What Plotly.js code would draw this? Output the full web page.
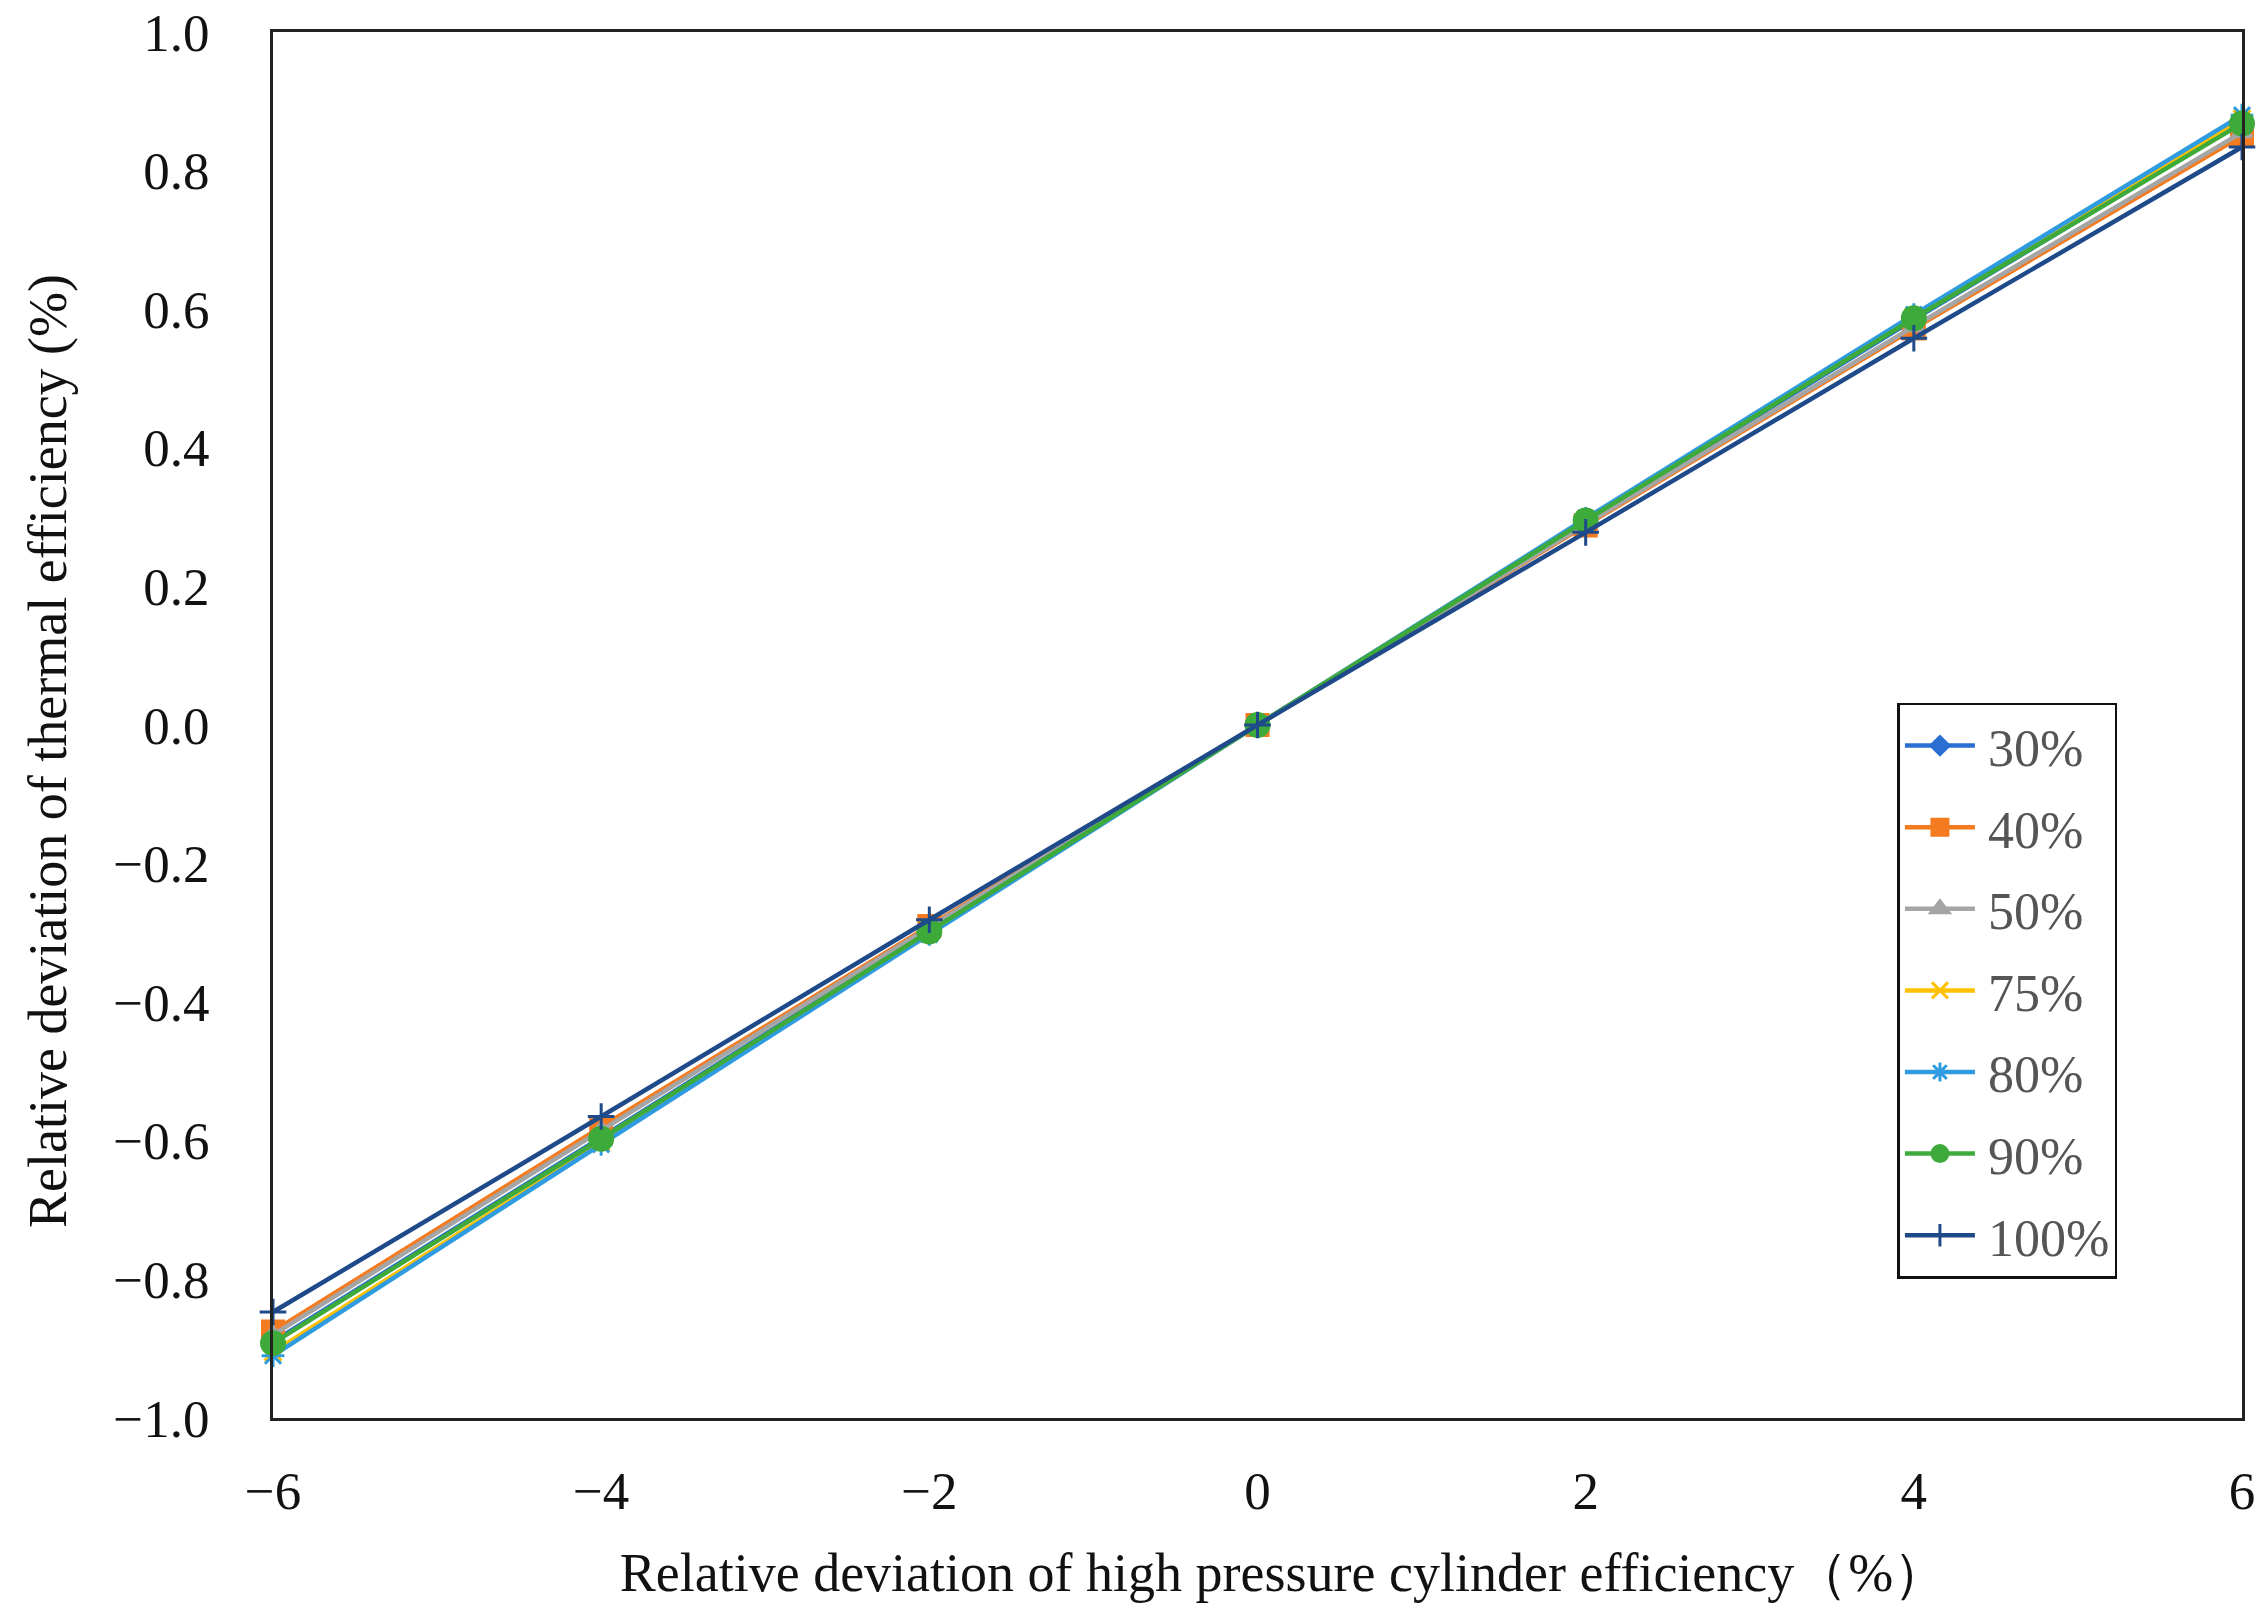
<!DOCTYPE html>
<html>
<head>
<meta charset="utf-8">
<script src="https://cdn.plot.ly/plotly-3.0.1.min.js"></script>
<style>html,body{margin:0;padding:0;background:#fff;}#chart{width:2267px;height:1623px;}</style>
</head>
<body>
<div id="chart"></div>
<script>
const xValues = [-6, -4, -2, 0, 2, 4, 6];
const seriesNames = ["30%", "40%", "50%", "75%", "80%", "90%", "100%"];
const load30 = [-0.890, -0.595, -0.297, 0, 0.294, 0.585, 0.870];
const load40 = [-0.875, -0.580, -0.290, 0, 0.288, 0.572, 0.850];
const load50 = [-0.880, -0.585, -0.292, 0, 0.290, 0.575, 0.855];
const load75 = [-0.905, -0.603, -0.300, 0, 0.297, 0.590, 0.875];
const load80 = [-0.910, -0.605, -0.302, 0, 0.298, 0.592, 0.880];
const load90 = [-0.892, -0.597, -0.298, 0, 0.295, 0.587, 0.868];
const load100 = [-0.847, -0.565, -0.281, 0, 0.278, 0.558, 0.834];
const xTickVals = [-6, -4, -2, 0, 2, 4, 6];
const yTickVals = [-1.0, -0.8, -0.6, -0.4, -0.2, 0.0, 0.2, 0.4, 0.6, 0.8, 1.0];

const allSeries = [load30, load40, load50, load75, load80, load90, load100];
const colors = ["#2a6fd1", "#f47b20", "#a5a5a5", "#ffc000", "#2f9be0", "#3daa3a", "#1f4a8a"];
const symbols = ["diamond", "square", "triangle-up", "x-thin-open", "asterisk-open", "circle", "cross-thin-open"];
const sizes = [14, 21, 17, 17, 19, 23, 19];

const traces = allSeries.map((ys, i) => ({
  x: xValues,
  y: ys,
  name: seriesNames[i],
  type: "scatter",
  mode: "lines+markers",
  cliponaxis: false,
  legendgroup: "g" + i,
  line: {color: colors[i], width: 4.5},
  marker: {symbol: symbols[i], size: sizes[i], color: colors[i], line: {color: colors[i], width: 3}}
}));

const fontFam = "Liberation Serif, Times New Roman, serif";
const layout = {
  width: 2267, height: 1623,
  paper_bgcolor: "#fff", plot_bgcolor: "#fff",
  margin: {l: 273, r: 25, t: 32, b: 205},
  font: {family: fontFam, color: "#111", size: 53},
  showlegend: true,
  legend: {
    x: 0.825, y: 0.516, xanchor: "left", yanchor: "top",
    bordercolor: "#111", borderwidth: 2.5, bgcolor: "#fff",
    font: {family: fontFam, size: 52, color: "#555"},
    traceorder: "grouped", tracegroupgap: 11,
    itemwidth: 78
  },
  xaxis: {
    range: [-6, 6], tickvals: xTickVals, ticktext: xTickVals.map(v => v < 0 ? "\u2212" + Math.abs(v) : String(v)),
    showgrid: false, zeroline: false,
    showline: true, linecolor: "#222", linewidth: 3, mirror: true,
    ticks: "outside", ticklen: 24, tickcolor: "rgba(0,0,0,0)",
    tickfont: {family: fontFam, size: 53, color: "#111"},
    title: {text: "Relative deviation of high pressure cylinder efficiency\uFF08%\uFF09", font: {family: fontFam, size: 54, color: "#111"}, standoff: 35}
  },
  yaxis: {
    range: [-1, 1], tickvals: yTickVals, tickformat: ".1f",
    showgrid: false, zeroline: false,
    showline: true, linecolor: "#222", linewidth: 3, mirror: true,
    ticks: "outside", ticklen: 50, tickcolor: "rgba(0,0,0,0)",
    tickfont: {family: fontFam, size: 53, color: "#111"},
    title: {text: "Relative deviation of thermal efficiency (%)", font: {family: fontFam, size: 54, color: "#111"}, standoff: 30}
  }
};

Plotly.newPlot("chart", traces, layout, {displayModeBar: false, staticPlot: true}).then(gd => {
  // lengthen legend symbol lines to match the reference's long legend keys
  gd.querySelectorAll(".legend .traces").forEach(t => {
    t.querySelectorAll(".legendlines path").forEach(p => p.setAttribute("d", "M5,0h70"));
    t.querySelectorAll(".legendpoints path").forEach(p => p.setAttribute("transform", "translate(40,0)"));
  });
  // the reference's axis titles sit slightly off-centre
  const xt = gd.querySelector(".g-xtitle");
  if (xt) xt.setAttribute("transform", "translate(26,0)");
  const yt = gd.querySelector(".g-ytitle");
  if (yt) yt.setAttribute("transform", "translate(0,26)");
});
</script>
</body>
</html>
